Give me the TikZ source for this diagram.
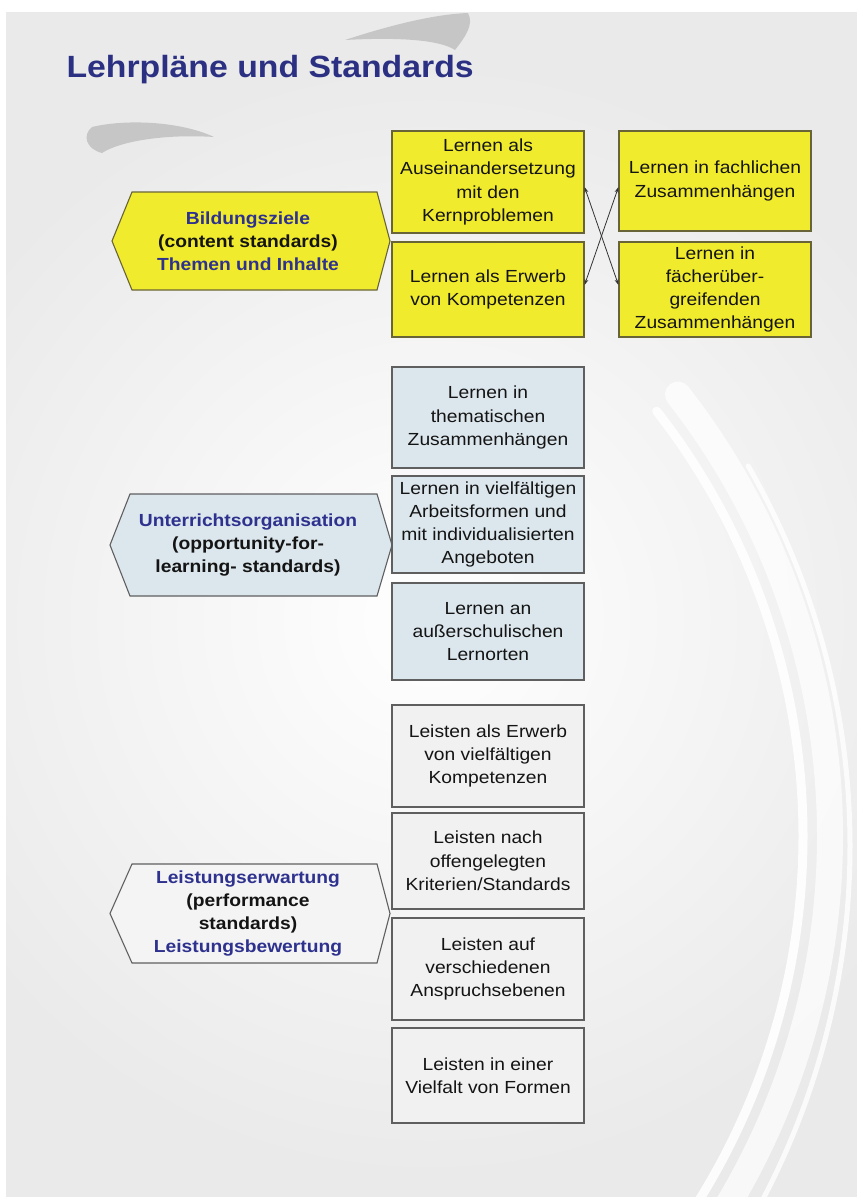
\documentclass[tikz,border=0pt]{standalone}
\usepackage{fontspec}
\setmainfont{Liberation Sans}[FakeStretch=1.1]
\usetikzlibrary{arrows.meta,shadows}

\definecolor{pagegray}{RGB}{234,234,234}
\definecolor{titleblue}{RGB}{43,48,130}
\definecolor{hexblue}{RGB}{46,50,142}
\definecolor{boxyellow}{RGB}{241,235,46}
\definecolor{boxblue}{RGB}{220,231,237}
\definecolor{boxgrey}{RGB}{241,241,241}
\definecolor{hexgrey}{RGB}{244,244,244}
\definecolor{edgegray}{RGB}{95,95,95}
\definecolor{edgeolive}{RGB}{105,100,55}
\definecolor{boxtext}{RGB}{20,20,20}

\begin{document}
\begin{tikzpicture}[x=1bp,y=-1bp]
				\tikzstyle{Box}		= [draw=edgegray, line width=1.1bp, inner sep=0pt, minimum width=192bp, align=center, text=boxtext, font=\fontsize{17.5bp}{23.3bp}\selectfont, drop shadow={shadow xshift=1.3bp, shadow yshift=-1.3bp, opacity=0.3}]
				\tikzstyle{YellowBox}	= [fill=boxyellow, draw=edgeolive]
				\tikzstyle{BlueBox}	= [fill=boxblue]
				\tikzstyle{GreyBox}	= [fill=boxgrey]
				\tikzstyle{Hex}		= [line width=1.1bp, draw=edgegray]
				\tikzstyle{HexText}	= [align=center, text=boxtext, font=\fontsize{17.5bp}{23bp}\selectfont\bfseries]
				\tikzstyle{Link}		= [line width=0.8bp, draw=black!80, {Stealth[length=6bp,width=4bp]}-{Stealth[length=6bp,width=4bp]}]
				\tikzstyle{Swoosh}	= [white, line cap=round]

				\useasboundingbox (0,0) rectangle (857,1201);
				\fill[white] (0,0) rectangle (857,1201);

				% background with swooshes
				\begin{scope}
					\clip (6,12) rectangle (857,1197);
					\fill[pagegray] (6,12) rectangle (857,1197);
					\shade[inner color=white, outer color=pagegray] (430,620) circle [radius=560];
					\draw[Swoosh, line width=26bp, opacity=0.7] (113,836) ++(72:717) arc[start angle=72, end angle=-38, radius=717];
					\draw[Swoosh, line width=9bp, opacity=0.9] (113,836) ++(70:690) arc[start angle=70, end angle=-38, radius=690];
					\draw[Swoosh, line width=5bp, opacity=0.8] (90,846) ++(66:760) arc[start angle=66, end angle=-30, radius=760];
					\draw[Swoosh, line width=40bp, opacity=0.6] (330,760) ++(118:640) arc[start angle=118, end angle=60, radius=640];
				\end{scope}
				\fill[gray!45] (345,40) .. controls (400,22) and (440,14) .. (468,13) .. controls (474,24) and (466,36) .. (455,50) .. controls (440,40) and (400,37) .. (345,40) -- cycle;
				\fill[gray!45] (92,127) .. controls (125,119) and (180,121) .. (214,137) .. controls (170,134) and (122,140) .. (102,153) .. controls (86,149) and (82,135) .. (92,127) -- cycle;

				\node (title) at (63,77) [anchor=base west, text=titleblue, font=\fontsize{30.7bp}{34bp}\selectfont\bfseries] {Lehrpläne und Standards};

				% content standards
				\draw [Hex, fill=boxyellow, draw=edgeolive] (112,241) -- (132,192) -- (377,192) -- (390,241) -- (377,290) -- (132,290) -- cycle;
				\node (bz) at (248,241) [HexText] {\textcolor{hexblue}{Bildungsziele}\\(content standards)\\\textcolor{hexblue}{Themen und Inhalte}};

				\node (kern) at (488,182.0) [Box][YellowBox][minimum height=102bp] {Lernen als\\Auseinandersetzung\\mit den\\Kernproblemen};
				\node (komp) at (488,289.5) [Box][YellowBox][minimum height=95bp] {Lernen als Erwerb\\von Kompetenzen};
				\node (fach) at (715,181.0) [Box][YellowBox][minimum height=100bp] {Lernen in fachlichen\\Zusammenhängen};
				\node (uebg) at (715,289.5) [Box][YellowBox][minimum height=95bp] {Lernen in\\fächerüber-\\greifenden\\Zusammenhängen};

				\draw [Link] ([yshift=-5bp]kern.east) to ([yshift=4.5bp]uebg.west);
				\draw [Link] ([yshift=4.5bp]komp.east) to ([yshift=-6bp]fach.west);

				% opportunity-for-learning standards
				\draw [Hex, fill=boxblue] (110,545) -- (130,494) -- (377,494) -- (392,545) -- (377,596) -- (130,596) -- cycle;
				\node (uo) at (248,545) [HexText] {\textcolor{hexblue}{Unterrichtsorganisation}\\(opportunity-for-\\learning- standards)};

				\node (them) at (488,417.5) [Box][BlueBox][minimum height=101bp] {Lernen in\\thematischen\\Zusammenhängen};
				\node (arb) at (488,524.5) [Box][BlueBox][minimum height=97bp] {Lernen in vielfältigen\\Arbeitsformen und\\mit individualisierten\\Angeboten};
				\node (ort) at (488,631.5) [Box][BlueBox][minimum height=97bp] {Lernen an\\außerschulischen\\Lernorten};

				% performance standards
				\draw [Hex, fill=hexgrey] (110,913.5) -- (132,864) -- (377,864) -- (390,913.5) -- (377,963) -- (132,963) -- cycle;
				\node (le) at (248,913.5) [HexText] {\textcolor{hexblue}{Leistungserwartung}\\(performance\\standards)\\\textcolor{hexblue}{Leistungsbewertung}};

				\node (lk) at (488,756.0) [Box][GreyBox][minimum height=102bp] {Leisten als Erwerb\\von vielfältigen\\Kompetenzen};
				\node (lo) at (488,861.0) [Box][GreyBox][minimum height=96bp] {Leisten nach\\offengelegten\\Kriterien/Standards};
				\node (la) at (488,969.0) [Box][GreyBox][minimum height=102bp] {Leisten auf\\verschiedenen\\Anspruchsebenen};
				\node (lf) at (488,1075.5) [Box][GreyBox][minimum height=95bp] {Leisten in einer\\Vielfalt von Formen};
			\end{tikzpicture}
\end{document}
